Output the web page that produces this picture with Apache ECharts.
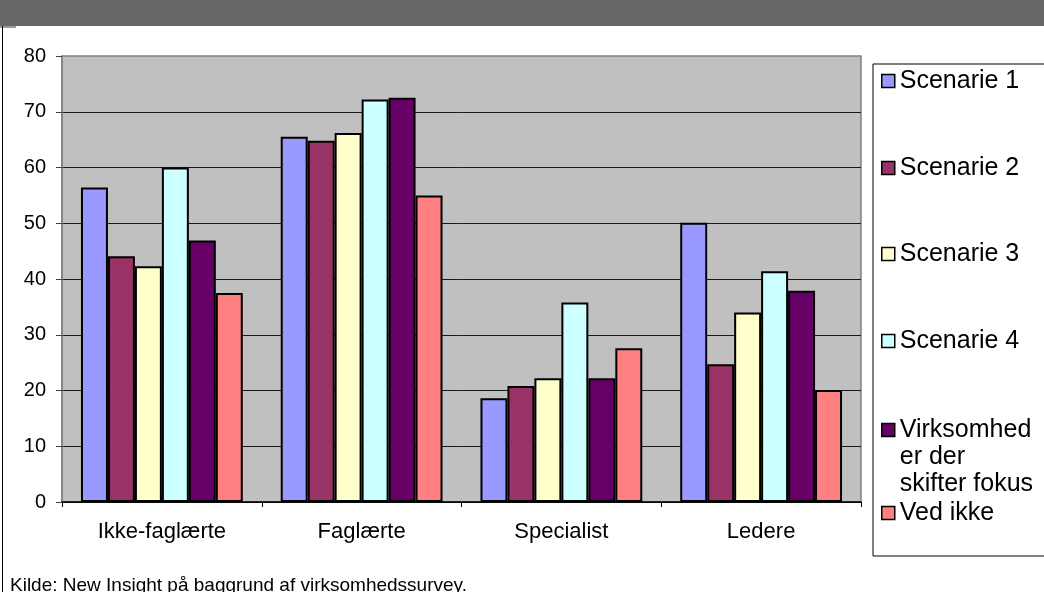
<!DOCTYPE html>
<html>
<head>
<meta charset="utf-8">
<script src="https://cdn.jsdelivr.net/npm/echarts@6/dist/echarts.min.js"></script>
<style>
  html, body { margin: 0; padding: 0; background: #fff; }
  #chart { width: 1044px; height: 592px; }
</style>
</head>
<body>
<div id="chart"></div>
<script>
// Categories of employees
const categories = ['Ikke-faglærte', 'Faglærte', 'Specialist', 'Ledere'];

// Series names
const seriesNames = ['Scenarie 1', 'Scenarie 2', 'Scenarie 3', 'Scenarie 4',
  'Virksomheder der skifter fokus', 'Ved ikke'];

// Values per series (one value per category)
const scenarie1 = [56.4, 65.5, 18.6, 50.1];
const scenarie2 = [44.1, 64.8, 20.8, 24.7];
const scenarie3 = [42.3, 66.2, 22.2, 34.0];
const scenarie4 = [60.0, 72.2, 35.8, 41.4];
const skifterFokus = [46.9, 72.5, 22.2, 37.9];
const vedIkke = [37.5, 55.0, 27.6, 20.1];

// Value axis range
const yMin = 0;
const yMax = 80;
const yStep = 10;

const sourceNote = 'Kilde: New Insight på baggrund af virksomhedssurvey.';

const seriesValues = [scenarie1, scenarie2, scenarie3, scenarie4, skifterFokus, vedIkke];
const colors = ['#9999FF', '#993366', '#FFFFCC', '#CCFFFF', '#660066', '#FF8080'];
const FONT = '"Liberation Sans", Arial, Helvetica, sans-serif';

// Legend label lines as wrapped in the legend box
const legendLines = {
  'Virksomheder der skifter fokus': ['Virksomhed', 'er der', 'skifter fokus']
};
// Vertical centre of each legend marker
const legendCenters = [81, 168, 254, 341, 430, 513];
const LEGEND_LINE = 27;

const chart = echarts.init(document.getElementById('chart'), null, { renderer: 'canvas' });

const legends = seriesNames.map((name, i) => {
  const lines = legendLines[name];
  const textStyle = { fontFamily: FONT, fontSize: 25, color: '#000' };
  let top = legendCenters[i] - 12.5;
  let formatter = (n) => n;
  if (lines) {
    // blank lines above keep the first text line level with the marker
    const blanks = lines.length - 1;
    const all = new Array(blanks).fill(' ').concat(lines);
    textStyle.lineHeight = LEGEND_LINE;
    top = legendCenters[i] - (all.length / 2) * LEGEND_LINE;
    formatter = () => all.join('\n');
  }
  return {
    data: [name],
    orient: 'vertical',
    left: 881,
    top: top,
    padding: 0,
    itemWidth: 13,
    itemHeight: 13,
    icon: 'rect',
    selectedMode: false,
    itemStyle: { borderColor: '#000', borderWidth: 1.5 },
    textStyle: textStyle,
    formatter: formatter
  };
});

const option = {
  animation: false,
  backgroundColor: '#fff',
  color: colors,
  grid: {
    left: 62, top: 56, right: 183, bottom: 90,
    show: true,
    backgroundColor: '#C0C0C0',
    borderColor: '#808080',
    borderWidth: 1.5
  },
  legend: legends,
  xAxis: {
    type: 'category',
    data: categories,
    axisLine: { lineStyle: { color: '#000', width: 1.5 } },
    axisTick: { show: true, length: 5, lineStyle: { color: '#000' } },
    axisLabel: { color: '#000', fontFamily: FONT, fontSize: 22, margin: 19 },
    splitLine: { show: false }
  },
  yAxis: {
    type: 'value',
    min: yMin, max: yMax, interval: yStep,
    axisLine: { show: true, lineStyle: { color: '#808080', width: 1.5 } },
    axisTick: { show: true, length: 6, lineStyle: { color: '#404040' } },
    axisLabel: { color: '#000', fontFamily: FONT, fontSize: 20, margin: 16 },
    splitLine: { show: true, showMaxLine: false, lineStyle: { color: '#1a1a1a', width: 1 } }
  },
  series: seriesNames.map((name, i) => ({
    name: name,
    type: 'bar',
    data: seriesValues[i],
    barGap: '0%',
    barCategoryGap: '19%',
    itemStyle: { color: colors[i], borderColor: '#000', borderWidth: 2 }
  })),
  graphic: [
    // dark header band
    { type: 'rect', shape: { x: 0, y: 0, width: 1044, height: 26 }, style: { fill: '#666666' }, silent: true },
    { type: 'rect', shape: { x: 0, y: 26, width: 16, height: 2 }, style: { fill: '#9a9a9a' }, silent: true },
    // left frame edge
    { type: 'line', shape: { x1: 2.5, y1: 26, x2: 2.5, y2: 592 }, style: { stroke: '#000', lineWidth: 1 }, silent: true },
    // legend frame
    { type: 'rect', shape: { x: 873, y: 64, width: 240, height: 492 }, style: { fill: 'none', stroke: '#000', lineWidth: 1 }, silent: true },
    // source note
    { type: 'text', silent: true,
      style: { text: sourceNote, x: 10, y: 586, font: '19px ' + FONT, fill: '#000', verticalAlign: 'middle' } }
  ]
};

chart.setOption(option);
</script>
</body>
</html>
